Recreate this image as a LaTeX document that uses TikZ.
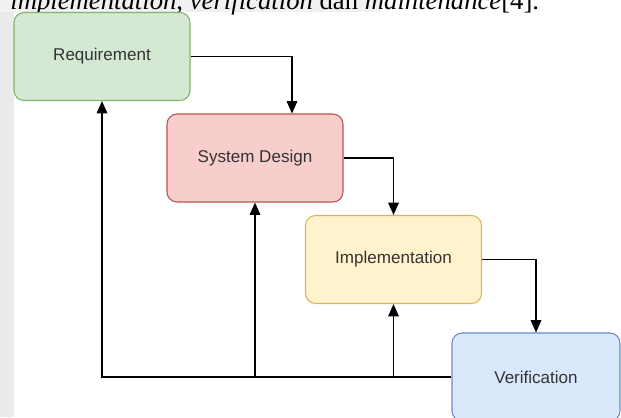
\documentclass[tikz,border=0pt]{standalone}
\usepackage{fontspec}
\usepackage{xcolor}
\usetikzlibrary{calc,arrows.meta}
\newfontfamily\boxfont{Liberation Sans}
\newfontfamily\pagefont{Liberation Serif}
\definecolor{reqfill}{HTML}{D5E8D4}\definecolor{reqline}{HTML}{82B366}
\definecolor{desfill}{HTML}{F8CECC}\definecolor{desline}{HTML}{B85450}
\definecolor{impfill}{HTML}{FFF2CC}\definecolor{impline}{HTML}{D6B656}
\definecolor{verfill}{HTML}{DAE8FC}\definecolor{verline}{HTML}{6C8EBF}
\definecolor{boxtext}{HTML}{333333}
\definecolor{scanshade}{HTML}{EBEBEB}
\newcommand{\phase}{\fontsize{9.7}{12}\selectfont\boxfont}

\begin{document}
\begin{tikzpicture}[x=0.02cm,y=-0.02cm,
	every node/.style={inner sep=0pt},
	phasebox/.style={draw,rounded corners=0.2cm,minimum width=3.52cm,minimum height=1.76cm,
		text=boxtext,font=\phase,line width=0.6pt},
	flow/.style={line width=0.8pt,-{Stealth[length=7pt,width=6pt,inset=0pt]}}]
\useasboundingbox (0,0) rectangle (621,417);
\clip (0,0) rectangle (621,417);
%page shading
\fill[scanshade] (0,0) rectangle (14,417);
\fill[scanshade!70] (0,0) rectangle (380,12);
\node[anchor=base west,font=\fontsize{15.2}{17}\selectfont\pagefont] (line) at (10,9)
	{\textit{implementation}, \textit{verification} dan \textit{maintenance}[4].};
%phases
\node[phasebox,fill=reqfill,draw=reqline] (req) at (102,56.5){Requirement};
\node[phasebox,fill=desfill,draw=desline] (des) at (255,158){System Design};
\node[phasebox,fill=impfill,draw=impline] (imp) at (393.5,259.5){Implementation};
\node[phasebox,fill=verfill,draw=verline,minimum width=3.36cm] (ver) at (536,377){Verification};
%forward edges
\draw[flow] (req.east) -| ($(des.north)+(37,0)$);
\draw[flow] (des.east) -| (imp.north);
\draw[flow] (imp.east) -| (ver.north);
%feedback edges
\draw[flow] (ver.west) -| (req.south);
\draw[flow] (ver.west -| des.south) -- (des.south);
\draw[flow] (ver.west -| imp.south) -- (imp.south);
\end{tikzpicture}
\end{document}
